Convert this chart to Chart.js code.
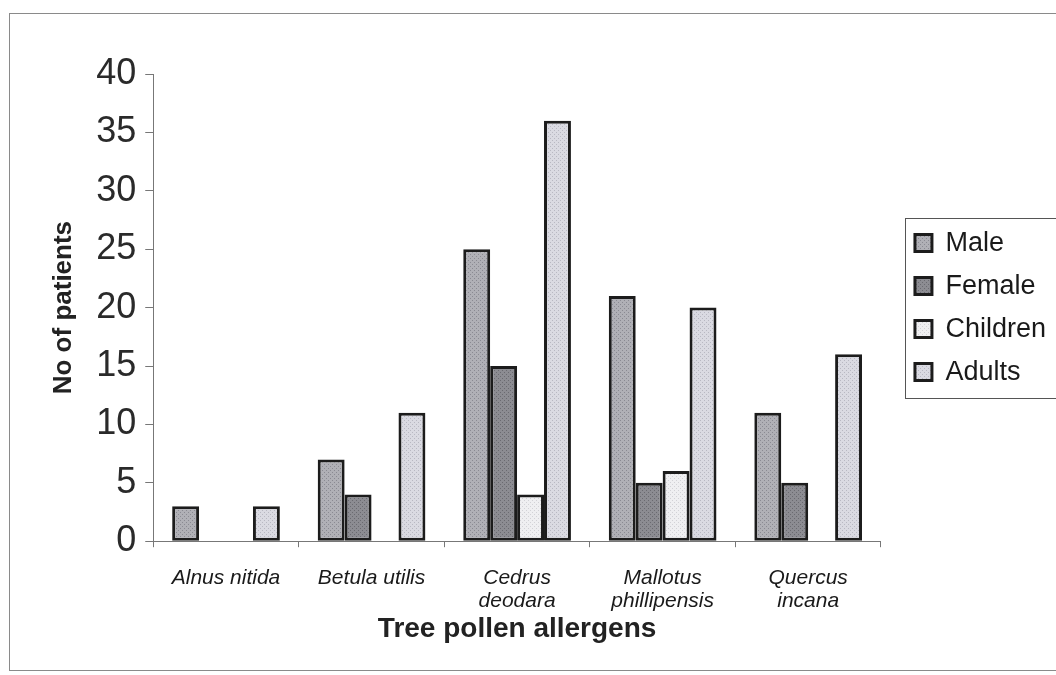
<!DOCTYPE html>
<html>
<head>
<meta charset="utf-8">
<script src="https://cdn.jsdelivr.net/npm/chart.js@4.4.0/dist/chart.umd.min.js"></script>
<style>
  html, body { margin: 0; padding: 0; background: #fff; }
  #wrap { position: relative; width: 1056px; height: 675px; overflow: hidden; }
  #frame { position: absolute; left: 9px; top: 13px; width: 1100px; height: 658px; border: 1px solid #8a8a8a; box-sizing: border-box; }
  canvas { position: absolute; left: 0; top: 0; }
</style>
</head>
<body>
<div id="wrap">
  <div id="frame"></div>
  <canvas id="pollenChart" width="1056" height="675"></canvas>
</div>
<script>
// Tree pollen allergen sensitivity by group
const categories = [
  'Alnus nitida',
  'Betula utilis',
  ['Cedrus', 'deodara'],
  ['Mallotus', 'phillipensis'],
  ['Quercus', 'incana']
];
const male = [3, 7, 25, 21, 11];
const female = [0, 4, 15, 5, 5];
const children = [0, 0, 4, 6, 0];
const adults = [3, 11, 36, 20, 16];
const yTicks = [0, 5, 10, 15, 20, 25, 30, 35, 40];

const FONT = 'Liberation Sans, Arial, sans-serif';

// small stippled fill like the printed original
function stipple(base, dot) {
  const c = document.createElement('canvas');
  c.width = 4; c.height = 4;
  const g = c.getContext('2d');
  g.fillStyle = base;
  g.fillRect(0, 0, 4, 4);
  g.fillStyle = dot;
  g.fillRect(0, 0, 1, 1);
  g.fillRect(2, 2, 1, 1);
  return g.createPattern(c, 'repeat');
}

// box round the legend items only
const legendBorder = {
  id: 'legendBorder',
  afterDraw(chart) {
    const boxes = chart.legend.legendHitBoxes;
    if (!boxes || !boxes.length) return;
    const x0 = Math.min(...boxes.map(b => b.left)) - 10;
    const y0 = Math.min(...boxes.map(b => b.top)) - 12;
    const y1 = Math.max(...boxes.map(b => b.top + b.height)) + 12;
    const ctx = chart.ctx;
    ctx.save();
    ctx.strokeStyle = '#555';
    ctx.lineWidth = 1;
    ctx.strokeRect(Math.round(x0) + 0.5, Math.round(y0) + 0.5, chart.width, Math.round(y1 - y0));
    ctx.restore();
  }
};

document.addEventListener('DOMContentLoaded', () => {
  const ctx = document.getElementById('pollenChart').getContext('2d');
  const fills = [
    stipple('#b0b0b6', '#8a8a92'),
    stipple('#8c8c92', '#6a6a70'),
    stipple('#efeff1', '#d2d2d6'),
    stipple('#dadae2', '#b8b8c2')
  ];
  const series = [
    ['Male', male],
    ['Female', female],
    ['Children', children],
    ['Adults', adults]
  ];

  new Chart(ctx, {
    type: 'bar',
    data: {
      labels: categories,
      datasets: series.map((s, i) => ({
        label: s[0],
        data: s[1],
        backgroundColor: fills[i],
        borderColor: '#1c1c1c',
        borderWidth: 3,
        borderSkipped: false,
        categoryPercentage: 0.74,
        barPercentage: 1.0
      }))
    },
    options: {
      responsive: false,
      animation: false,
      layout: { padding: { left: 48, top: 74, right: 0, bottom: 29 } },
      plugins: {
        tooltip: { enabled: false },
        legend: {
          position: 'right',
          fullSize: false,
          labels: {
            color: '#1a1a1a',
            font: { family: FONT, size: 27 },
            boxWidth: 17,
            boxHeight: 17,
            padding: 16,
            generateLabels(chart) {
              return chart.data.datasets.map((d, i) => ({
                text: d.label,
                fillStyle: d.backgroundColor,
                strokeStyle: '#1c1c1c',
                lineWidth: 3,
                fontColor: '#1a1a1a',
                datasetIndex: i
              }));
            }
          }
        }
      },
      scales: {
        x: {
          grid: { display: true, offset: true, drawOnChartArea: false, tickLength: 6, color: '#777' },
          border: { color: '#777', width: 1 },
          ticks: {
            color: '#1a1a1a',
            maxRotation: 0,
            padding: 19,
            font: { family: FONT, size: 21, style: 'italic', lineHeight: 1.1 }
          },
          title: {
            display: true,
            text: 'Tree pollen allergens',
            color: '#222',
            padding: { top: -19, bottom: 0 },
            font: { family: FONT, size: 28, weight: 'bold' }
          }
        },
        y: {
          min: 0,
          max: 40,
          afterBuildTicks(axis) { axis.ticks = yTicks.map(v => ({ value: v })); },
          grid: { display: true, drawOnChartArea: false, tickLength: 8, color: '#777' },
          border: { color: '#777', width: 1 },
          ticks: {
            color: '#2a2a2a',
            padding: 9,
            font: { family: FONT, size: 36 }
          },
          title: {
            display: true,
            text: 'No of patients',
            color: '#222',
            padding: { top: 0, bottom: 8 },
            font: { family: FONT, size: 26, weight: 'bold' }
          }
        },
        // empty spacer between plot and legend
        gap: {
          position: 'right',
          display: true,
          min: 0,
          max: 1,
          grid: { display: false },
          border: { display: false },
          ticks: { display: false },
          afterFit(scale) { scale.width = 18; }
        }
      }
    },
    plugins: [legendBorder]
  });
});
</script>
</body>
</html>
